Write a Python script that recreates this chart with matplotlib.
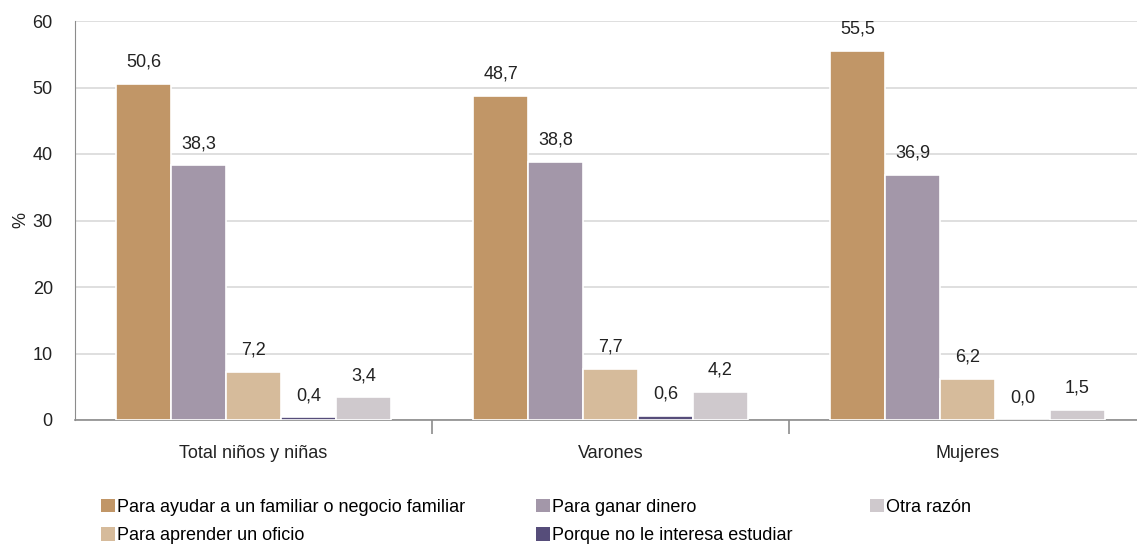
import matplotlib
matplotlib.use("Agg")
import matplotlib.pyplot as plt
from matplotlib.patches import Patch
import numpy as np

plt.rcParams['font.family'] = ['Liberation Sans', 'DejaVu Sans']

categories = ["Total niños y niñas", "Varones", "Mujeres"]
series_names = [
    "Para ayudar a un familiar o negocio familiar",
    "Para ganar dinero",
    "Para aprender un oficio",
    "Porque no le interesa estudiar",
    "Otra razón",
]
ayudar = [50.6, 48.7, 55.5]
ganar = [38.3, 38.8, 36.9]
aprender = [7.2, 7.7, 6.2]
no_interesa = [0.4, 0.6, 0.0]
otra = [3.4, 4.2, 1.5]
series = [ayudar, ganar, aprender, no_interesa, otra]
colors = ["#C19667", "#A397A9", "#D6BB9B", "#564D7A", "#CFC9CD"]

FS = 13
W, H = 1137, 545
fig = plt.figure(figsize=(W / 100, H / 100), dpi=100)
ax = fig.add_axes([75 / W, 1 - 420 / H, 1062 / W, 399 / H])

x = np.arange(len(categories))
bw = 0.154
offsets = (np.arange(5) - 2) * bw
for vals, off, col in zip(series, offsets, colors):
    bars = ax.bar(x + off, vals, width=bw, color=col, edgecolor="white", linewidth=1.2, zorder=3)
    for b, v in zip(bars, vals):
        ax.annotate(f"{v:.1f}".replace(".", ","), (b.get_x() + b.get_width() / 2, v),
                    xytext=(0, 9.5), textcoords="offset points", ha="center", va="bottom",
                    fontsize=FS, color="#222222")

ax.set_ylim(0, 60)
ax.set_xlim(-0.5, 2.475)
ax.set_yticks(range(0, 61, 10))
ax.tick_params(axis="y", length=0, labelsize=FS, pad=16, colors="#222222")
ax.yaxis.grid(True, color="#d9d9d9", linewidth=1.2, zorder=0)
ax.set_axisbelow(True)
for s in ["top", "right"]:
    ax.spines[s].set_visible(False)
ax.spines["left"].set_color("#8c8c8c")
ax.spines["bottom"].set_color("#8c8c8c")
ax.spines["bottom"].set_linewidth(1.2)
ax.set_ylabel("%", fontsize=FS, labelpad=2, color="#222222")

ax.set_xticks([0.5, 1.5])
ax.set_xticklabels([])
ax.tick_params(axis="x", length=10, color="#8c8c8c", width=1.2)
for xi, c in zip(x, categories):
    ax.text(xi, -5.0, c, ha="center", va="center", fontsize=FS, color="#222222")

def leg(handles, labels, xpix):
    fig.legend(handles, labels, loc="upper left",
               bbox_to_anchor=(xpix / W, 1 - 499 / H), frameon=False,
               fontsize=FS, handlelength=0.75, handleheight=0.75, handletextpad=0.12,
               labelspacing=0.62, borderaxespad=0, borderpad=0)

ph = [Patch(facecolor=c, edgecolor="none") for c in colors]
leg([ph[0], ph[2]], [series_names[0], series_names[2]], 101)
leg([ph[1], ph[3]], [series_names[1], series_names[3]], 536)
leg([ph[4]], [series_names[4]], 870)

fig.savefig("out.png", dpi=100)
